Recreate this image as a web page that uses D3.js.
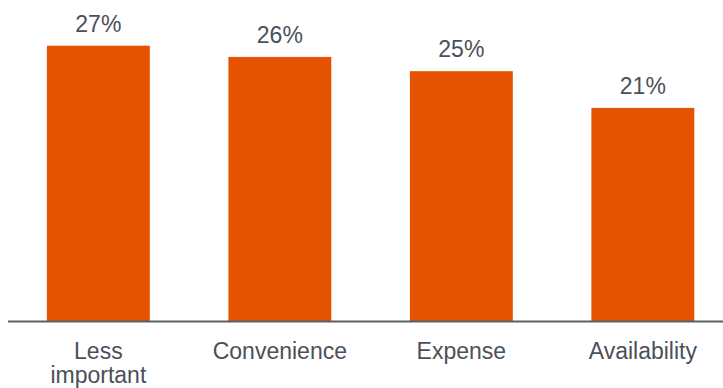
<!DOCTYPE html>
<html>
<head>
<meta charset="utf-8">
<script src="https://cdn.jsdelivr.net/npm/d3@7"></script>
<style>
  html, body { margin: 0; padding: 0; background: #fff; }
  svg { display: block; }
</style>
</head>
<body>
<svg id="chart" width="723" height="388"></svg>
<script>
const categories = [["Less", "important"], ["Convenience"], ["Expense"], ["Availability"]];
const categoryKeys = ["Less important", "Convenience", "Expense", "Availability"];
const values = [27.0, 25.9, 24.5, 20.9];

const svg = d3.select("#chart");
const baseline = 321;

const x = d3.scaleBand()
  .domain(categoryKeys)
  .range([7.6, 733.6])
  .paddingInner(0.433)
  .paddingOuter(0.2165);

const y = d3.scaleLinear()
  .domain([0, 27])
  .range([baseline, 45.7]);

const data = categoryKeys.map((k, i) => ({ key: k, lines: categories[i], value: values[i] }));

svg.selectAll("rect.bar")
  .data(data)
  .join("rect")
  .attr("class", "bar")
  .attr("x", d => x(d.key))
  .attr("width", x.bandwidth())
  .attr("y", d => y(d.value))
  .attr("height", d => baseline - y(d.value))
  .attr("fill", "#e55302");

svg.selectAll("text.val")
  .data(data)
  .join("text")
  .attr("class", "val")
  .attr("x", d => x(d.key) + x.bandwidth() / 2)
  .attr("y", d => y(d.value) - 14)
  .attr("text-anchor", "middle")
  .attr("font-family", "Liberation Sans, Arial, sans-serif")
  .attr("font-size", 23)
  .attr("fill", "#4b5058")
  .text(d => Math.round(d.value) + "%");

svg.append("line")
  .attr("x1", 8).attr("x2", 723)
  .attr("y1", baseline + 0.5).attr("y2", baseline + 0.5)
  .attr("stroke", "#5a5f66")
  .attr("stroke-width", 2);

const labels = svg.selectAll("text.cat")
  .data(data)
  .join("text")
  .attr("class", "cat")
  .attr("text-anchor", "middle")
  .attr("font-family", "Liberation Sans, Arial, sans-serif")
  .attr("font-size", 23)
  .attr("fill", "#4b5058");

labels.selectAll("tspan")
  .data(d => d.lines.map((l, i) => ({ l, i, cx: x(d.key) + x.bandwidth() / 2 })))
  .join("tspan")
  .attr("x", t => t.cx)
  .attr("y", t => 359 + t.i * 24)
  .text(t => t.l);
</script>
</body>
</html>
